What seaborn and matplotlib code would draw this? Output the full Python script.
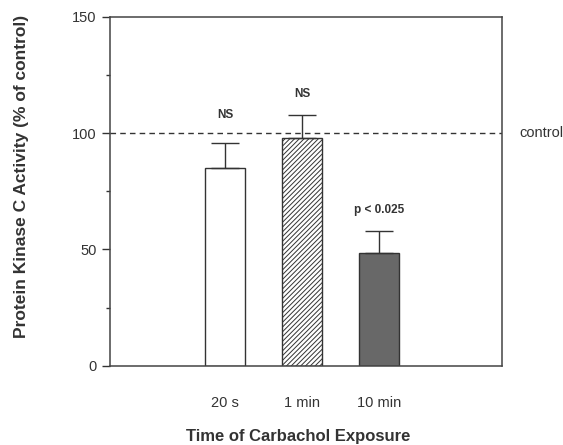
import numpy as np
import pandas as pd
import matplotlib
matplotlib.use("Agg")
import matplotlib.pyplot as plt
import seaborn as sns

# Dati
times = ["20 s", "1 min", "10 min"]
activity = [85, 98, 48.5]
sem = [11, 10, 9.5]
signif = ["NS", "NS", "p < 0.025"]
signif_y = [108, 117, 67]
control_level = 100

df = pd.DataFrame({"time": times, "activity": activity})

sns.set_style("ticks")
plt.rcParams["font.family"] = ["Liberation Sans", "DejaVu Sans"]
plt.rcParams["hatch.color"] = "#555555"
plt.rcParams["hatch.linewidth"] = 0.7

fig = plt.figure(figsize=(5.63, 4.45), dpi=100)
ax = fig.add_axes([0.195, 0.178, 0.697, 0.784])

sns.barplot(data=df, x="time", y="activity", ax=ax, width=0.52,
            color="white", edgecolor="#333333", linewidth=1.0, errorbar=None)

bars = ax.patches
bars[0].set_facecolor("white")
bars[1].set_facecolor("white")
bars[1].set_hatch("///////")
bars[2].set_facecolor("#686868")

# barre di errore solo verso l'alto
xpos = np.arange(len(times))
ax.errorbar(xpos, activity, yerr=[np.zeros(len(sem)), sem], fmt="none",
            ecolor="#333333", elinewidth=1.0, capsize=10, capthick=1.0)

# linea del controllo
ax.axhline(control_level, color="#333333", linestyle=(0, (4, 3)), linewidth=1.0)
ax.text(3.82, control_level, "control", va="center", ha="left",
        fontsize=10.5, color="#333333")

# etichette di significativita'
for i in range(len(times)):
    ax.text(i, signif_y[i], signif[i], ha="center", va="center",
            fontsize=8.5, fontweight="bold", color="#333333")

ax.set_xlim(-1.5, 3.6)
ax.set_ylim(0, 150)
ax.set_yticks([0, 50, 100, 150])
ax.set_yticks([25, 75, 125], minor=True)
ax.tick_params(axis="y", which="major", length=6, width=1.0, colors="#333333",
               labelsize=10.5)
ax.tick_params(axis="y", which="minor", length=3, width=1.0, colors="#333333")
ax.tick_params(axis="x", length=0, pad=22, labelsize=10.5, colors="#333333")

for s in ax.spines.values():
    s.set_visible(True)
    s.set_color("#444444")
    s.set_linewidth(1.1)

ax.set_xlabel("Time of Carbachol Exposure", fontsize=12, fontweight="bold",
              color="#333333")
ax.set_ylabel("Protein Kinase C Activity (% of control)", fontsize=12.5,
              fontweight="bold", color="#333333")

# posizione precisa delle etichette degli assi
ax.xaxis.set_label_coords(0.48, -0.18)
ax.yaxis.set_label_coords(-0.205, 0.543)

fig.savefig("out.png", dpi=100)
